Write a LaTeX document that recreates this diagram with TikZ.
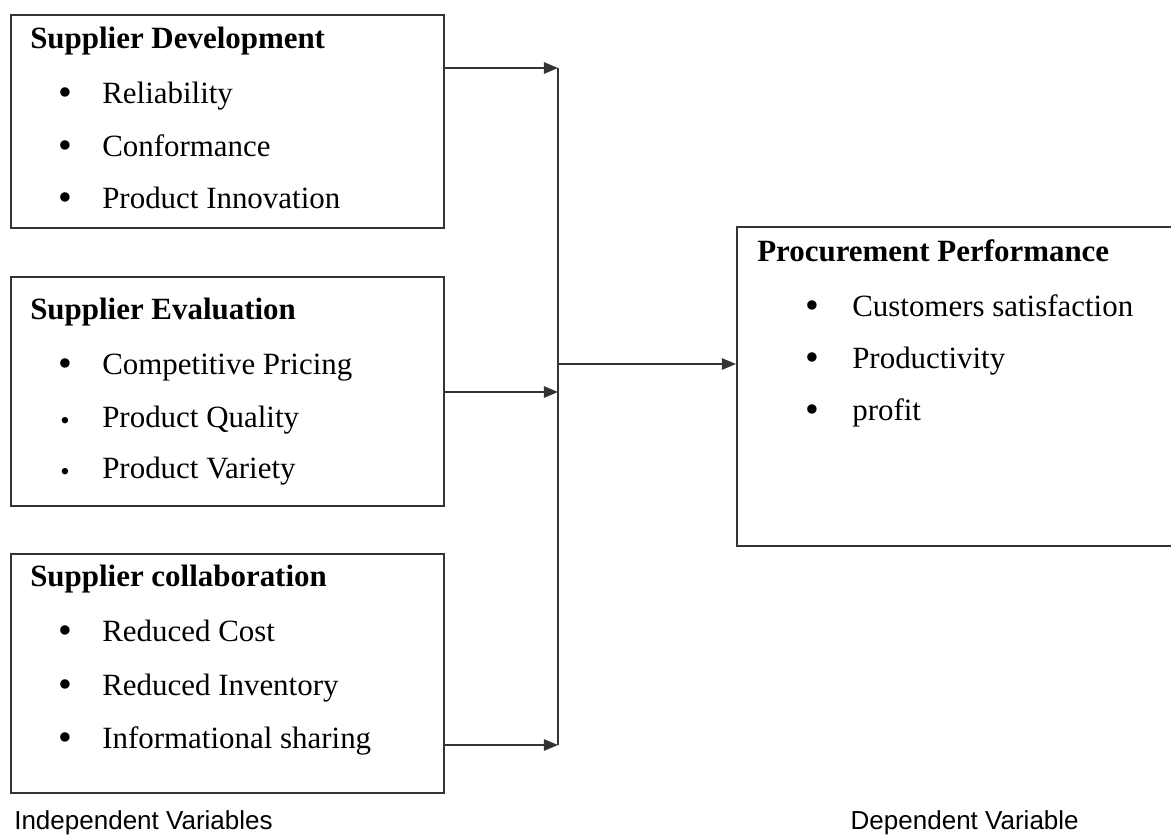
\documentclass[tikz,border=0pt]{standalone}
\usepackage{fontspec}
\setmainfont{Liberation Serif}
\newfontfamily\footfont{Liberation Sans}
\usetikzlibrary{arrows.meta,positioning}

\begin{document}
\begin{tikzpicture}[x=0.025cm,y=-0.025cm,
		box/.style={draw=black!80,line width=1.4pt,anchor=north west,inner sep=0pt},
		head/.style={anchor=base west,inner sep=0pt,font=\fontsize{22}{26}\selectfont\bfseries},
		item/.style={anchor=base west,inner sep=0pt,font=\fontsize{22}{26}\selectfont},
		dot/.style={anchor=base,inner sep=0pt,font=\fontsize{28}{30}\selectfont},
		minidot/.style={anchor=base,inner sep=0pt,font=\fontsize{19}{22}\selectfont},
		line/.style={draw=black!80,line width=1.4pt},
		arr/.style={line,-{Triangle[length=10pt,width=8pt]}},
		foot/.style={anchor=base west,inner sep=0pt,font=\footfont\fontsize{18.5}{22}\selectfont},
		]
		\useasboundingbox (0,0) rectangle (1171,837);

		\node[box,minimum width=10.825cm,minimum height=5.325cm](dev) at (10,14) {};
		\node[box,minimum width=10.825cm,minimum height=5.725cm](eval) at (10,276) {};
		\node[box,minimum width=10.825cm,minimum height=5.975cm](collab) at (10,553) {};
		\node[box,minimum width=11.5cm,minimum height=7.975cm](perf) at (736,226) {};

		% independent variables
		\node[head](devh) at (30,48) {Supplier Development};
		\node[dot](d1) at (65,105) {•}; \node[item](dev1) at (102,103) {Reliability};
		\node[dot](d2) at (65,158) {•}; \node[item](dev2) at (102,156) {Conformance};
		\node[dot](d3) at (65,210) {•}; \node[item](dev3) at (102,208) {Product Innovation};

		\node[head](evalh) at (30,319) {Supplier Evaluation};
		\node[dot](e1) at (65,376) {•};     \node[item](eval1) at (102,374) {Competitive Pricing};
		\node[minidot](e2) at (65,429) {•}; \node[item](eval2) at (102,427) {Product Quality};
		\node[minidot](e3) at (65,480) {•}; \node[item](eval3) at (102,478) {Product Variety};

		\node[head](collabh) at (30,586) {Supplier collaboration};
		\node[dot](c1) at (65,643) {•}; \node[item](collab1) at (102,641) {Reduced Cost};
		\node[dot](c2) at (65,697) {•}; \node[item](collab2) at (102,695) {Reduced Inventory};
		\node[dot](c3) at (65,750) {•}; \node[item](collab3) at (102,748) {Informational sharing};

		% dependent variable
		\node[head](perfh) at (757,261) {Procurement Performance};
		\node[dot](p1) at (812,318) {•}; \node[item](perf1) at (852,316) {Customers satisfaction};
		\node[dot](p2) at (812,370) {•}; \node[item](perf2) at (852,368) {Productivity};
		\node[dot](p3) at (812,422) {•}; \node[item](perf3) at (852,420) {profit};

		\coordinate (jtop) at (558,68);
		\coordinate (jmid) at (558,392);
		\coordinate (jbot) at (558,745);
		\coordinate (jout) at (558,364);

		\draw[line] (jtop) -- (jbot);
		\draw[arr] (dev.east |- jtop) -- (jtop);
		\draw[arr] (eval.east |- jmid) -- (jmid);
		\draw[arr] (collab.east |- jbot) -- (jbot);
		\draw[arr] (jout) -- (perf.west |- jout);

		\node[foot](indep) at (14,829) {Independent Variables};
		\node[foot,anchor=base east](dep) at (1079,829) {Dependent Variable};
\end{tikzpicture}
\end{document}
